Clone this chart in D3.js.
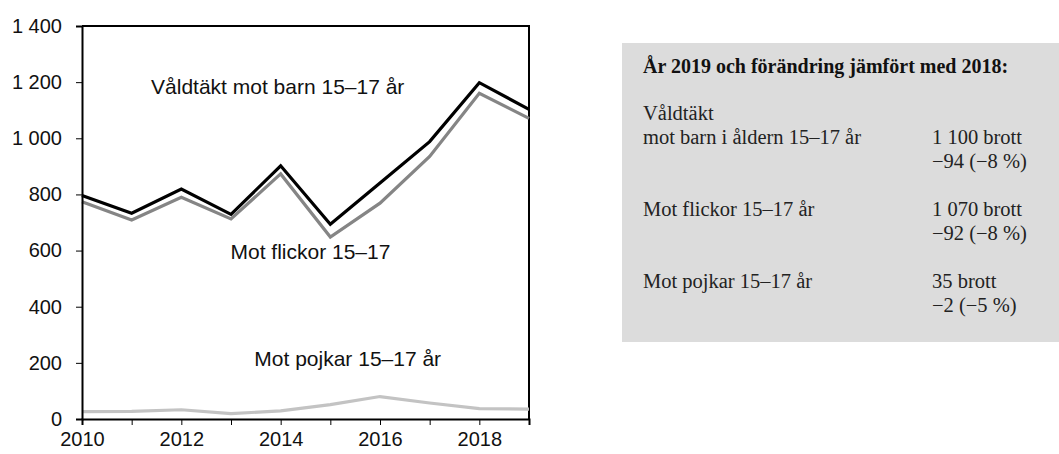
<!DOCTYPE html>
<html>
<head>
<meta charset="utf-8">
<script src="https://cdn.jsdelivr.net/npm/d3@7"></script>
<style>
  body { margin: 0; background: white; }
  svg { display: block; }
</style>
</head>
<body>
<div class="rape-plot"></div>
<script>
// values
const years = [2010, 2011, 2012, 2013, 2014, 2015, 2016, 2017, 2018, 2019];
const barn = [796, 733, 819, 729, 902, 694, 841, 988, 1198, 1103];
const flickor = [774, 709, 790, 713, 873, 648, 769, 935, 1160, 1071];
const pojkar = [26, 27, 33, 19, 29, 51, 80, 57, 37, 35];
const yTicks = [0, 200, 400, 600, 800, 1000, 1200, 1400];
const xTicks = [2010, 2012, 2014, 2016, 2018];

const boxTitle = "År 2019 och förändring jämfört med 2018:";
const boxRows = [
    {label: ["Våldtäkt", "mot barn i åldern 15–17 år"], value: ["1 100 brott", "−94 (−8 %)"]},
    {label: ["Mot flickor 15–17 år"], value: ["1 070 brott", "−92 (−8 %)"]},
    {label: ["Mot pojkar 15–17 år"], value: ["35 brott", "−2 (−5 %)"]}
];

const series = [
    {name: "Mot pojkar 15–17 år", values: pojkar, color: "#c3c3c3", lx: 2013.47, ly: 190},
    {name: "Mot flickor 15–17", values: flickor, color: "#858585", lx: 2012.99, ly: 570},
    {name: "Våldtäkt mot barn 15–17 år", values: barn, color: "#000000", lx: 2011.39, ly: 1159}
];

const outerWidth = 1059;
const outerHeight = 454;
const margin = {top: 26, left: 82, bottom: 35, right: 530};
const width = 529 - margin.left;
const height = 419 - margin.top;

const root = d3.select('.rape-plot')
    .append('svg')
    .attr('width', outerWidth)
    .attr('height', outerHeight);

const svg = root.append('g')
    .attr('transform', `translate(${margin.left}, ${margin.top})`);

const xScale = d3.scaleLinear()
    .domain([2010, 2019])
    .range([0, width]);
const yScale = d3.scaleLinear()
    .domain([0, 1400])
    .range([height, 0]);

const fmt = d => d3.format(",")(d).replace(/,/g, " ");

// frame on top and right
svg.append("path")
    .attr("d", `M0,0H${width}V${height}`)
    .attr("fill", "none")
    .attr("stroke", "black")
    .attr("stroke-width", 2);

const line = d3.line()
    .x((d, i) => xScale(years[i]))
    .y(d => yScale(d));

series.forEach(s => {
    svg.append("path")
        .datum(s.values)
        .attr("fill", "none")
        .attr("stroke", s.color)
        .attr("stroke-width", 3.2)
        .attr("stroke-linejoin", "miter")
        .attr("d", line);
});

svg.append('g')
    .attr("transform", `translate(0, ${height})`)
    .call(d3.axisBottom(xScale).tickValues(years).tickSize(6).tickPadding(7)
        .tickFormat(d => xTicks.includes(d) ? d : ""))
    .call(g => g.selectAll("text")
        .attr("font-family", "Liberation Sans, Arial, sans-serif")
        .attr("font-size", 20)
        .attr("fill", "#111"))
    .call(g => g.selectAll(".domain, .tick line").attr("stroke", "black"))
    .call(g => g.select(".domain").attr("stroke-width", 2));

svg.append('g')
    .call(d3.axisLeft(yScale).tickValues(yTicks).tickSize(6).tickPadding(14).tickFormat(fmt))
    .call(g => g.selectAll("text")
        .attr("font-family", "Liberation Sans, Arial, sans-serif")
        .attr("font-size", 20)
        .attr("fill", "#111"))
    .call(g => g.selectAll(".domain, .tick line").attr("stroke", "black"))
    .call(g => g.select(".domain").attr("stroke-width", 2));

// series labels
svg.selectAll(".series-label")
    .data(series)
    .enter()
    .append("text")
    .attr("class", "series-label")
    .attr("x", d => xScale(d.lx))
    .attr("y", d => yScale(d.ly))
    .attr("font-family", "Liberation Sans, Arial, sans-serif")
    .attr("font-size", 21)
    .attr("fill", "#111")
    .text(d => d.name);

// summary box
const box = root.append("g").attr("transform", "translate(622, 43)");
box.append("rect")
    .attr("width", outerWidth - 622)
    .attr("height", 299)
    .attr("fill", "#dcdcdc");

box.append("text")
    .attr("x", 21)
    .attr("y", 30)
    .attr("font-family", "Liberation Serif, Times New Roman, serif")
    .attr("font-weight", "bold")
    .attr("font-size", 20)
    .attr("fill", "#111")
    .text(boxTitle);

let rowY = 77;
boxRows.forEach(r => {
    const labelStart = rowY;
    r.label.forEach((t, i) => {
        box.append("text")
            .attr("x", 21)
            .attr("y", labelStart + i * 24)
            .attr("font-family", "Liberation Serif, Times New Roman, serif")
            .attr("font-size", 20.5)
            .attr("fill", "#222")
            .text(t);
    });
    const valueStart = labelStart + (r.label.length - 1) * 24;
    r.value.forEach((t, i) => {
        box.append("text")
            .attr("x", 310)
            .attr("y", valueStart + i * 24)
            .attr("font-family", "Liberation Serif, Times New Roman, serif")
            .attr("font-size", 20.5)
            .attr("fill", "#222")
            .text(t);
    });
    rowY = valueStart + 24 + 48;
});
</script>
</body>
</html>
